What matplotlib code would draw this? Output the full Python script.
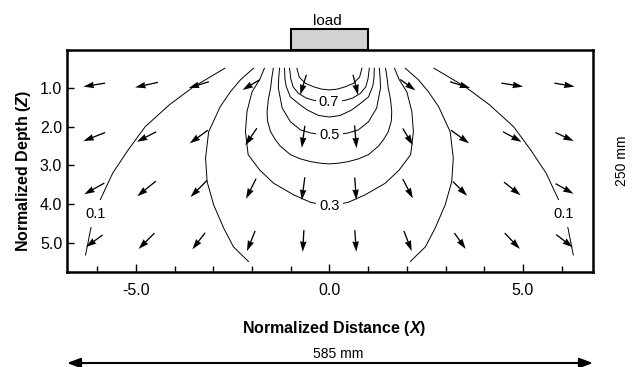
import matplotlib
matplotlib.use('Agg')
import matplotlib.pyplot as plt
from matplotlib.patches import Rectangle

plt.rcParams['font.family'] = ['Liberation Sans', 'DejaVu Sans']
plt.rcParams['mathtext.fontset'] = 'custom'
plt.rcParams['mathtext.it'] = 'Liberation Sans:italic:bold'
plt.rcParams['mathtext.rm'] = 'Liberation Sans:bold'

# stress contours, left half (x, z) from the surface downwards
c01 = [(-2.70, 0.49), (-3.51, 0.97), (-4.13, 1.43), (-4.76, 2.00), (-5.20, 2.60),
       (-5.60, 3.20), (-5.95, 3.95), (-6.15, 4.55), (-6.30, 5.31)]
c02 = [(-1.96, 0.49), (-2.30, 0.79), (-2.56, 1.10), (-2.82, 1.48), (-3.12, 2.13),
       (-3.20, 2.81), (-3.16, 3.42), (-2.99, 4.02), (-2.73, 4.62), (-2.48, 5.10),
       (-2.09, 5.48)]
# closed bulbs: left half down to the centre line
c03 = [(-1.68, 0.49), (-1.80, 0.78), (-2.00, 1.10), (-2.13, 1.61), (-2.17, 2.13),
       (-2.10, 2.72), (-1.80, 3.12), (-1.44, 3.46), (-0.92, 3.76), (-0.49, 3.95),
       (0.0, 4.05)]
c04 = [(-1.45, 0.49), (-1.49, 0.75), (-1.52, 1.00), (-1.58, 1.30), (-1.61, 1.61),
       (-1.60, 1.85), (-1.52, 2.13), (-1.40, 2.33), (-1.27, 2.50), (-1.01, 2.72),
       (-0.75, 2.83), (-0.49, 2.90), (-0.25, 2.94), (0.0, 2.96)]
c05 = [(-1.29, 0.49), (-1.31, 0.75), (-1.32, 1.00), (-1.22, 1.52), (-1.01, 1.87),
       (-0.75, 2.08), (-0.49, 2.16), (-0.25, 2.20), (0.0, 2.21)]
c06 = [(-1.16, 0.49), (-1.15, 0.75), (-1.12, 0.95), (-1.01, 1.23), (-0.75, 1.44),
       (-0.57, 1.57), (-0.28, 1.71), (0.0, 1.75)]
c07 = [(-1.03, 0.49), (-1.00, 0.75), (-0.94, 0.97), (-0.80, 1.14), (-0.60, 1.26),
       (-0.40, 1.32), (-0.20, 1.35), (0.0, 1.36)]
c08 = [(-0.84, 0.49), (-0.78, 0.72), (-0.62, 0.88), (-0.41, 0.97), (-0.20, 1.03),
       (0.0, 1.05)]

open_levels = [0.1, 0.2]
open_curves = [c01, c02]
bulb_levels = [0.3, 0.4, 0.5, 0.6, 0.7, 0.8]
bulb_curves = [c03, c04, c05, c06, c07, c08]

label_levels = [0.1, 0.1, 0.3, 0.5, 0.7]
label_x = [-6.05, 6.05, 0.0, 0.0, -0.02]
label_z = [4.25, 4.25, 4.05, 2.21, 1.36]

# displacement vectors on a regular grid
arrow_x = [-6.075, -4.725, -3.375, -2.025, -0.675, 0.675, 2.025, 3.375, 4.725, 6.075]
arrow_z = [0.92, 2.26, 3.60, 4.95]
arrow_u = [
    [-0.56, -0.59, -0.52, -0.44, -0.16, 0.13, 0.39, 0.52, 0.56, 0.52],
    [-0.56, -0.50, -0.47, -0.30, -0.08, 0.05, 0.26, 0.47, 0.48, 0.47],
    [-0.52, -0.48, -0.43, -0.26, -0.08, 0.04, 0.26, 0.37, 0.43, 0.46],
    [-0.43, -0.41, -0.33, -0.21, -0.03, 0.04, 0.20, 0.29, 0.39, 0.43],
]
arrow_w = [
    [0.09, 0.13, 0.16, 0.26, 0.52, 0.52, 0.28, 0.16, 0.09, 0.09],
    [0.22, 0.26, 0.34, 0.44, 0.57, 0.59, 0.43, 0.34, 0.26, 0.22],
    [0.29, 0.39, 0.43, 0.52, 0.59, 0.58, 0.50, 0.37, 0.34, 0.26],
    [0.31, 0.41, 0.43, 0.52, 0.56, 0.56, 0.52, 0.41, 0.41, 0.33],
]

load_left, load_right = -1.0, 1.0

fig = plt.figure(figsize=(6.32, 3.67), dpi=100)
ax = fig.add_axes([67 / 632, 95 / 367, 526 / 632, 222 / 367])
ax.set_xlim(-6.78, 6.81)
ax.set_ylim(5.75, 0.02)

line_kw = dict(color='black', lw=0.7, zorder=2)
for lev, pts in zip(open_levels, open_curves):
    xs = [p[0] for p in pts]
    zs = [p[1] for p in pts]
    ax.plot(xs, zs, **line_kw)
    ax.plot([-x for x in xs], zs, **line_kw)

for lev, half in zip(bulb_levels, bulb_curves):
    full = half + [(-x, z) for x, z in reversed(half[:-1])]
    ax.plot([p[0] for p in full], [p[1] for p in full], **line_kw)

for lev, lx, lz in zip(label_levels, label_x, label_z):
    pad = 0.45 if lev == 0.1 else 0.2
    ax.text(lx, lz, f'{lev:.1f}', ha='center', va='center', fontsize=10.5, zorder=3,
            bbox=dict(boxstyle=f'square,pad={pad}', fc='white', ec='none'))

X, Z = [], []
U, W = [], []
for i, z in enumerate(arrow_z):
    for j, x in enumerate(arrow_x):
        X.append(x)
        Z.append(z)
        U.append(arrow_u[i][j])
        W.append(arrow_w[i][j])
ax.quiver(X, Z, U, W, angles='xy', scale_units='xy', scale=1, pivot='middle',
          width=0.0025, headwidth=5, headlength=8, headaxislength=7.5,
          color='black', zorder=4)

# load plate sitting on the surface
ax.add_patch(Rectangle((load_left, 0.02), load_right - load_left, -0.55,
                       facecolor='#d2d2d2', edgecolor='black', lw=1.5,
                       clip_on=False, zorder=5))
ax.text(-0.05, -0.63, 'load', ha='center', va='baseline', fontsize=11)

for s in ax.spines.values():
    s.set_linewidth(1.8)

ax.set_xticks([-5, 0, 5])
ax.set_xticklabels(['-5.0', '0.0', '5.0'])
ax.set_xticks(range(-6, 7), minor=True)
ax.set_yticks([1, 2, 3, 4, 5])
ax.set_yticklabels(['1.0', '2.0', '3.0', '4.0', '5.0'])
ax.tick_params(axis='x', which='major', direction='in', length=6, width=1, pad=8,
               labelsize=11.5)
ax.tick_params(axis='x', which='minor', direction='in', length=4, width=1)
ax.tick_params(axis='y', direction='in', length=5, width=1, pad=3.5, labelsize=11.5)

ax.set_xlabel(r'Normalized Distance ($\mathit{X}$)', fontsize=11.5, fontweight='bold')
ax.xaxis.set_label_coords(0.507, -0.212)
ax.set_ylabel(r'Normalized Depth ($\mathit{Z}$)', fontsize=11.5, fontweight='bold')
ax.yaxis.set_label_coords(-0.0646, 0.457)

# box dimensions
ax.annotate('', xy=(0, -0.41), xytext=(1, -0.41), xycoords='axes fraction',
            arrowprops=dict(arrowstyle='<|-|>,head_length=0.8,head_width=0.3',
                            color='black', lw=1.5, shrinkA=0, shrinkB=0))
fig.text(338 / 632, 1 - 354 / 367, '585 mm', ha='center', va='center', fontsize=10)
fig.text(622 / 632, 1 - 161 / 367, '250 mm', ha='center', va='center', fontsize=10,
         rotation=90)

fig.savefig('out.png', dpi=100)
